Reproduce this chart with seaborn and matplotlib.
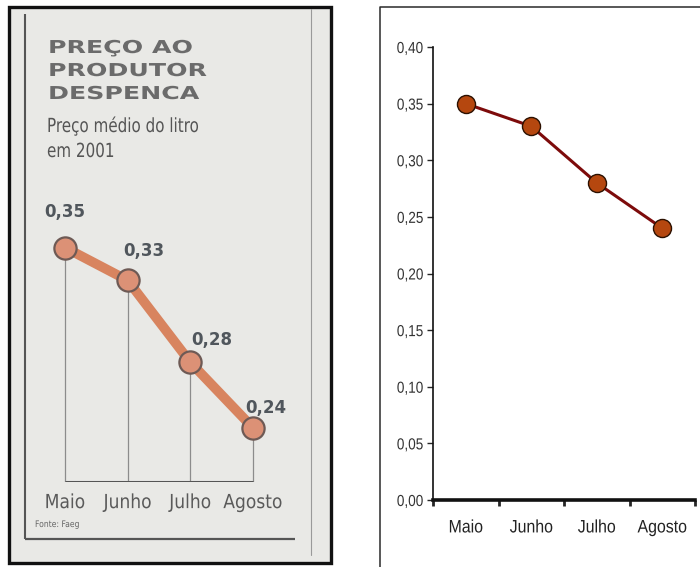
import matplotlib
matplotlib.use("Agg")
import matplotlib.pyplot as plt
import seaborn as sns
import pandas as pd
from matplotlib.patches import Rectangle
from matplotlib.patheffects import AbstractPathEffect
from matplotlib.transforms import Affine2D
from matplotlib.ticker import FuncFormatter

# ---- data ---------------------------------------------------------------
months = ["Maio", "Junho", "Julho", "Agosto"]
price = [0.35, 0.33, 0.28, 0.24]
price_labels = ["0,35", "0,33", "0,28", "0,24"]
y_ticks = [0.00, 0.05, 0.10, 0.15, 0.20, 0.25, 0.30, 0.35, 0.40]
title_lines = ["PREÇO AO", "PRODUTOR", "DESPENCA"]
subtitle_lines = ["Preço médio do litro", "em 2001"]
source_note = "Fonte: Faeg"

df = pd.DataFrame({"mes": months, "preco": price})

sns.set_style("white")
plt.rcParams["font.family"] = ["DejaVu Sans"]

W, H = 700, 567
fig = plt.figure(figsize=(7, 5.67), dpi=100)
fig.patch.set_facecolor("white")


class Stretch(AbstractPathEffect):
    """Scale glyph outlines horizontally; anchor 0 = left, 0.5 = centre, 1 = right."""

    def __init__(self, sx, anchor=0.0):
        super().__init__()
        self.sx = sx
        self.anchor = anchor

    def draw_path(self, renderer, gc, tpath, affine, rgbFace=None):
        if self.anchor:
            ext = tpath.get_extents()
            cx = ext.x0 + self.anchor * ext.width
        else:
            cx = 0.0
        t = Affine2D().translate(-cx, 0).scale(self.sx, 1).translate(cx, 0)
        renderer.draw_path(gc, tpath, t + affine, rgbFace)


def px_axes(x0, y0, x1, y1):
    """Axes placed by pixel box (origin top-left)."""
    return fig.add_axes([x0 / W, 1 - y1 / H, (x1 - x0) / W, (y1 - y0) / H])


# ---- page layer: clipping frame, rules and headline ---------------------
bg = px_axes(0, 0, W, H)
bg.set_xlim(0, W)
bg.set_ylim(H, 0)
bg.axis("off")
bg.set_zorder(0)

bg.add_patch(Rectangle((9, 7), 322, 556, facecolor="#e9e9e6",
                       edgecolor="#111111", lw=2.4))
bg.plot([25, 25], [14, 539], color="#555555", lw=1.5, solid_capstyle="butt")
bg.plot([25, 295], [539, 539], color="#555555", lw=1.6, solid_capstyle="butt")
bg.plot([311, 311], [9, 555], color="#9a9a9a", lw=0.8)

# frame of the second panel
bg.plot([380, 380, 700], [567, 7, 7], color="#2a2a2a", lw=1.1)

for txt, yb in zip(title_lines, [53, 76, 99]):
    bg.text(48, yb, txt, fontsize=12.8, fontweight="bold", color="#6b6b6b",
            ha="left", va="baseline", path_effects=[Stretch(1.42)])
for txt, yb in zip(subtitle_lines, [132, 157]):
    bg.text(47, yb, txt, fontsize=14, color="#555555",
            ha="left", va="baseline", path_effects=[Stretch(0.78)])
bg.text(35, 527, source_note, fontsize=6.5, color="#666666",
        ha="left", va="baseline", path_effects=[Stretch(0.85)])

# ---- newspaper-style chart ----------------------------------------------
axL = px_axes(33.6, 200, 284.4, 482)
axL.set_zorder(1)
axL.patch.set_alpha(0)
y0L = 0.207
axL.vlines(range(len(price)), y0L, price, color="#8c8c8c", lw=0.9, zorder=1)
axL.hlines(y0L, 0, len(price) - 1, color="#555555", lw=2.2, zorder=1)
sns.lineplot(data=df, x="mes", y="preco", ax=axL, color="#d8845f", lw=7,
             marker="o", markersize=16, markerfacecolor="#dc9176",
             markeredgecolor="#6e5a55", markeredgewidth=1.6,
             solid_capstyle="round", zorder=2)
axL.set_xlim(-0.5, 3.5)
axL.set_ylim(y0L, 0.379)
for s in axL.spines.values():
    s.set_visible(False)
axL.set_yticks([])
axL.set_xticks(range(len(months)), months)
axL.tick_params(axis="x", length=0, pad=8, labelsize=14, labelcolor="#5a5a5a")
for lbl in axL.get_xticklabels():
    lbl.set_path_effects([Stretch(0.88, 0.5)])
axL.set_xlabel("")
axL.set_ylabel("")

label_offsets = [(0, 31), (16, 24), (21, 17), (13, 15)]  # pixels from point
for i, (v, lbl) in enumerate(zip(price, price_labels)):
    dx, dy = label_offsets[i]
    axL.annotate(lbl, (i, v), xytext=(dx * 0.72, dy * 0.72),
                 textcoords="offset points", ha="center", va="baseline",
                 fontsize=12, fontweight="bold", color="#50565c")

# ---- spreadsheet-style chart --------------------------------------------
axR = px_axes(433, 47, 695, 500)
axR.set_zorder(1)
sns.lineplot(data=df, x="mes", y="preco", ax=axR, color="#7d0b0b", lw=2.2,
             marker="o", markersize=13, markerfacecolor="#b5470f",
             markeredgecolor="#2b1000", markeredgewidth=1.0)
axR.set_xlim(-0.5, 3.5)
axR.set_ylim(0, 0.40)
axR.set_yticks(y_ticks)
axR.yaxis.set_major_formatter(FuncFormatter(lambda v, _: f"{v:.2f}".replace(".", ",")))
axR.set_xticks(range(len(months)), months)
axR.set_xticks([i - 0.5 for i in range(len(months) + 1)], minor=True)
axR.tick_params(axis="y", direction="out", length=4, width=1, pad=3,
                labelsize=11.5, labelcolor="#333333", left=True)
axR.tick_params(axis="x", which="major", length=0, pad=14,
                labelsize=13, labelcolor="#222222")
axR.tick_params(axis="x", which="minor", direction="out", length=4,
                width=2, bottom=True)
for lbl in axR.get_yticklabels():
    lbl.set_fontfamily("Liberation Sans")
    lbl.set_path_effects([Stretch(0.85, 1.0)])
for lbl in axR.get_xticklabels():
    lbl.set_fontfamily("Liberation Sans")
    lbl.set_path_effects([Stretch(0.88, 0.5)])
axR.spines["top"].set_visible(False)
axR.spines["right"].set_visible(False)
axR.spines["left"].set_linewidth(1.2)
axR.spines["left"].set_color("#111111")
axR.spines["bottom"].set_linewidth(2.6)
axR.spines["bottom"].set_color("#111111")
axR.set_xlabel("")
axR.set_ylabel("")

fig.savefig("out.png", dpi=100, facecolor="white")
